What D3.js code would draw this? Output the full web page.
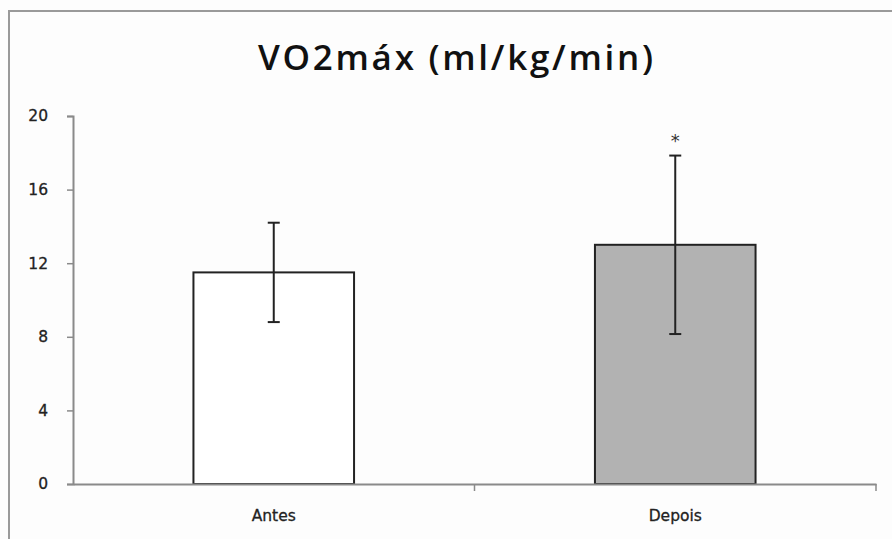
<!DOCTYPE html>
<html>
<head>
<meta charset="utf-8">
<script src="https://cdn.jsdelivr.net/npm/d3@7"></script>
<style>
  body { margin: 0; background: #fff; }
  svg { display: block; }
</style>
</head>
<body>
<div id="chart"></div>
<script>
// data
const categories = ["Antes", "Depois"];
const means = [11.5, 13.0];
const errors = [2.7, 4.85];
const barColors = ["#ffffff", "#b2b2b2"];
const significant = [false, true];
const yTicks = [0, 4, 8, 12, 16, 20];

const width = 892;
const height = 539;
const margin = { top: 116, right: 16, bottom: 55, left: 73 };

const svg = d3.select("#chart")
  .append("svg")
  .attr("width", width)
  .attr("height", height);

// frame
svg.append("rect")
  .attr("x", 0).attr("y", 0)
  .attr("width", width).attr("height", height)
  .attr("fill", "#fdfdfd");

svg.append("rect")
  .attr("x", 9).attr("y", 11)
  .attr("width", width + 20).attr("height", height + 20)
  .attr("fill", "none")
  .attr("stroke", "#9a9a9a")
  .attr("stroke-width", 2);

// title
svg.append("text")
  .attr("x", 258)
  .attr("y", 70)
  .attr("textLength", 395)
  .attr("lengthAdjust", "spacing")
  .attr("font-family", "'Open Sans', sans-serif")
  .attr("font-weight", "600")
  .attr("font-size", 35)
  .attr("fill", "#111")
  .text("VO2máx (ml/kg/min)");

const x = d3.scaleBand()
  .domain(categories)
  .range([margin.left, width - margin.right])
  .paddingInner(0.6)
  .paddingOuter(0.3);

const xAxisScale = d3.scaleBand()
  .domain(categories)
  .range([margin.left, width - margin.right]);

const y = d3.scaleLinear()
  .domain([0, 20])
  .range([height - margin.bottom, margin.top]);

// bars
svg.append("g")
  .selectAll("rect")
  .data(categories)
  .enter()
  .append("rect")
  .attr("x", d => x(d))
  .attr("y", (d, i) => y(means[i]))
  .attr("width", x.bandwidth())
  .attr("height", (d, i) => y(0) - y(means[i]))
  .attr("fill", (d, i) => barColors[i])
  .attr("stroke", "#222")
  .attr("stroke-width", 2);

// error bars
const eb = svg.append("g")
  .attr("stroke", "#222")
  .attr("stroke-width", 2);

categories.forEach((c, i) => {
  const cx = x(c) + x.bandwidth() / 2;
  const lo = y(means[i] - errors[i]);
  const hi = y(means[i] + errors[i]);
  eb.append("line").attr("x1", cx).attr("x2", cx).attr("y1", lo).attr("y2", hi);
  eb.append("line").attr("x1", cx - 6).attr("x2", cx + 6).attr("y1", lo).attr("y2", lo);
  eb.append("line").attr("x1", cx - 6).attr("x2", cx + 6).attr("y1", hi).attr("y2", hi);
  if (significant[i]) {
    svg.append("text")
      .attr("x", cx)
      .attr("y", hi - 9)
      .attr("text-anchor", "middle")
      .attr("font-family", "'DejaVu Sans', sans-serif")
      .attr("font-size", 18)
      .attr("fill", "#333")
      .text("*");
  }
});

// y axis
svg.append("g")
  .attr("transform", `translate(${margin.left},0)`)
  .call(d3.axisLeft(y).tickValues(yTicks).tickSize(6).tickPadding(19))
  .call(g => g.select(".domain").attr("stroke", "#8a8a8a").attr("stroke-width", 2))
  .call(g => g.selectAll("line").attr("stroke", "#8a8a8a").attr("stroke-width", 1.5))
  .call(g => g.selectAll("text")
    .attr("font-family", "'DejaVu Sans', sans-serif")
    .attr("font-size", 15.5)
    .attr("fill", "#222")
    .attr("stroke", "#222")
    .attr("stroke-width", 0.3));

// x axis
const xAxis = svg.append("g")
  .attr("transform", `translate(0,${y(0)})`)
  .call(d3.axisBottom(xAxisScale).tickSize(0).tickPadding(26))
  .call(g => g.select(".domain").attr("stroke", "#8a8a8a").attr("stroke-width", 2))
  .call(g => g.selectAll("text")
    .attr("font-family", "'DejaVu Sans', sans-serif")
    .attr("font-size", 15.5)
    .attr("fill", "#222")
    .attr("stroke", "#222")
    .attr("stroke-width", 0.3));

// category separators on x axis
const sepX = [xAxisScale.range()[0] + xAxisScale.step(), xAxisScale.range()[1]];
xAxis.append("g")
  .selectAll("line")
  .data(sepX)
  .enter()
  .append("line")
  .attr("x1", d => d)
  .attr("x2", d => d)
  .attr("y1", 0)
  .attr("y2", 7)
  .attr("stroke", "#8a8a8a")
  .attr("stroke-width", 1.5);
</script>
</body>
</html>
